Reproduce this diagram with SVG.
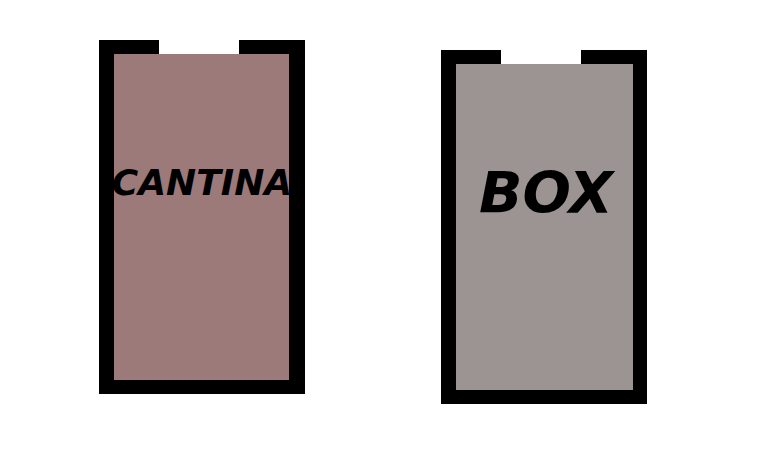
<svg xmlns="http://www.w3.org/2000/svg" width="779" height="460" viewBox="0 0 779 460">
<style>
.wall{fill:#000}
.door{fill:#fff}
.lbl{font-family:"DejaVu Sans",Verdana,sans-serif;font-weight:bold;font-style:italic;fill:#000;text-anchor:middle}
</style>
<rect width="779" height="460" fill="#fff"/>
<g id="cantina">
<rect class="wall" x="99" y="40" width="206" height="354"/>
<rect x="114" y="54" width="175" height="326" fill="#9c7a7a"/>
<rect class="door" x="159" y="40" width="80" height="14"/>
<text class="lbl" x="202" y="195" font-size="36">CANTINA</text>
</g>
<g id="box">
<rect class="wall" x="441" y="50" width="206" height="354"/>
<rect x="456" y="64" width="177" height="326" fill="#9c9492"/>
<rect class="door" x="501" y="50" width="80" height="14"/>
<text class="lbl" x="546" y="213" font-size="57">BOX</text>
</g>
<g id="connectors"/>
</svg>
